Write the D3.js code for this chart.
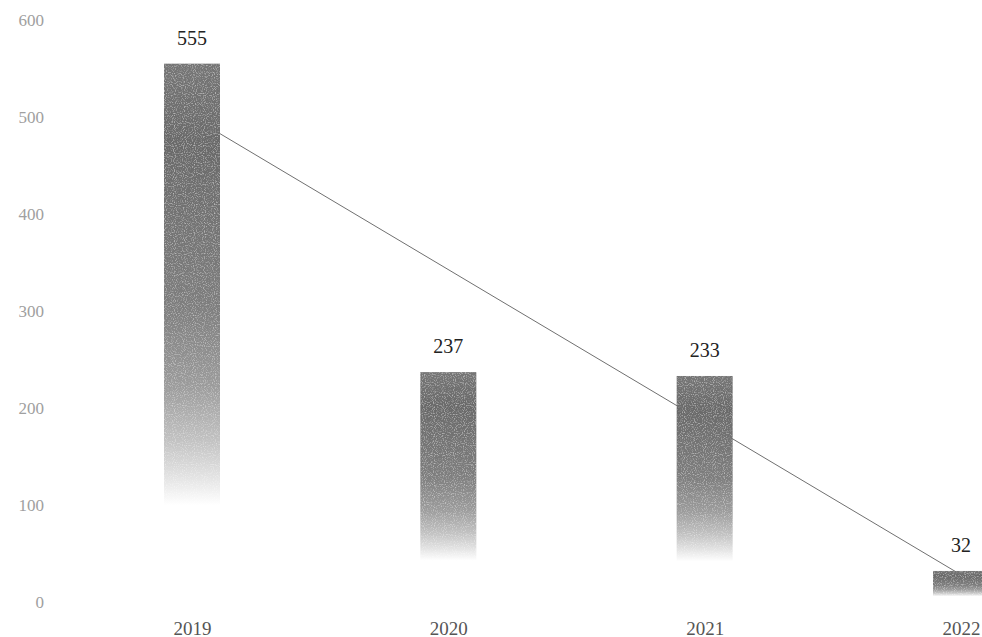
<!DOCTYPE html>
<html>
<head>
<meta charset="utf-8">
<script src="https://cdn.jsdelivr.net/npm/d3@7"></script>
<style>
  html, body { margin: 0; padding: 0; background: #fff; }
  svg { display: block; }
  text { font-family: "Liberation Serif", "DejaVu Serif", serif; }
</style>
</head>
<body>
<svg id="chart" width="982" height="637"></svg>
<script>
const years = ["2019", "2020", "2021", "2022"];
const values = [555, 237, 233, 32];
const yTicks = [0, 100, 200, 300, 400, 500, 600];
// linear trend line values read at the first and last category
const trendYears = ["2019", "2022"];
const trendValues = [500, 28];

const svg = d3.select("#chart");
const serif = '"Liberation Serif", "DejaVu Serif", serif';

const x = d3.scalePoint().domain(years).range([192, 961]);
const y = d3.scaleLinear().domain([0, 600]).range([602, 20]);
const barW = 56;

const defs = svg.append("defs");
const grad = defs.append("linearGradient")
  .attr("id", "barGrad").attr("x1", 0).attr("y1", 0).attr("x2", 0).attr("y2", 1);
[
  [0, "#767676"],
  [0.15, "#6a6a6a"],
  [0.45, "#7e7e7e"],
  [0.6, "#9c9c9c"],
  [0.7, "#c2c2c2"],
  [0.77, "#e4e4e4"],
  [0.82, "#ffffff"],
  [1, "#ffffff"]
].forEach(([o, c]) => grad.append("stop").attr("offset", o).attr("stop-color", c));

// grain filter to mimic the scanned texture
const f = defs.append("filter").attr("id", "grain").attr("x", 0).attr("y", 0).attr("width", 1).attr("height", 1);
f.append("feTurbulence").attr("type", "fractalNoise").attr("baseFrequency", 0.9).attr("numOctaves", 1).attr("seed", 3).attr("result", "noise");
f.append("feColorMatrix").attr("in", "noise").attr("type", "matrix")
  .attr("values", "0 0 0 0 1  0 0 0 0 1  0 0 0 0 1  0 0 0 -1.2 0.6").attr("result", "specks");
f.append("feComposite").attr("in", "specks").attr("in2", "SourceGraphic").attr("operator", "in").attr("result", "sp");
f.append("feMerge").call(m => { m.append("feMergeNode").attr("in", "SourceGraphic"); m.append("feMergeNode").attr("in", "sp"); });

// y axis labels
const yAxis = d3.axisLeft(y).tickValues(yTicks).tickSize(0).tickPadding(0);
const gy = svg.append("g").attr("transform", "translate(44,0)").call(yAxis);
gy.attr("font-family", null).attr("font-size", null);
gy.select(".domain").remove();
gy.selectAll("text")
  .style("font-family", serif)
  .style("font-size", "17px")
  .attr("fill", "#a0a0a0")
  .attr("dy", "0.32em");

// bars
svg.append("g").selectAll("rect").data(values).join("rect")
  .attr("x", (d, i) => x(years[i]) - barW / 2)
  .attr("y", d => y(d))
  .attr("width", barW)
  .attr("height", d => y(0) - y(d))
  .attr("fill", "url(#barGrad)")
  .attr("filter", "url(#grain)");

// trend line
const line = d3.line().x((d, i) => x(trendYears[i])).y(d => y(d));
svg.append("path")
  .datum(trendValues)
  .attr("d", line)
  .attr("fill", "none")
  .attr("stroke", "#707070")
  .attr("stroke-width", 1);

// value labels
svg.append("g").selectAll("text").data(values).join("text")
  .attr("x", (d, i) => x(years[i]))
  .attr("y", d => y(d) - 19)
  .attr("text-anchor", "middle")
  .style("font-family", serif)
  .style("font-size", "20px")
  .attr("fill", "#222")
  .text(d => d);

// x axis labels
const xAxis = d3.axisBottom(x).tickSize(0).tickPadding(0);
const gx = svg.append("g").attr("transform", "translate(0,621)").call(xAxis);
gx.attr("font-family", null).attr("font-size", null);
gx.select(".domain").remove();
gx.selectAll("text")
  .style("font-family", serif)
  .style("font-size", "19px")
  .attr("fill", "#555")
  .attr("dy", "0.71em");
</script>
</body>
</html>
